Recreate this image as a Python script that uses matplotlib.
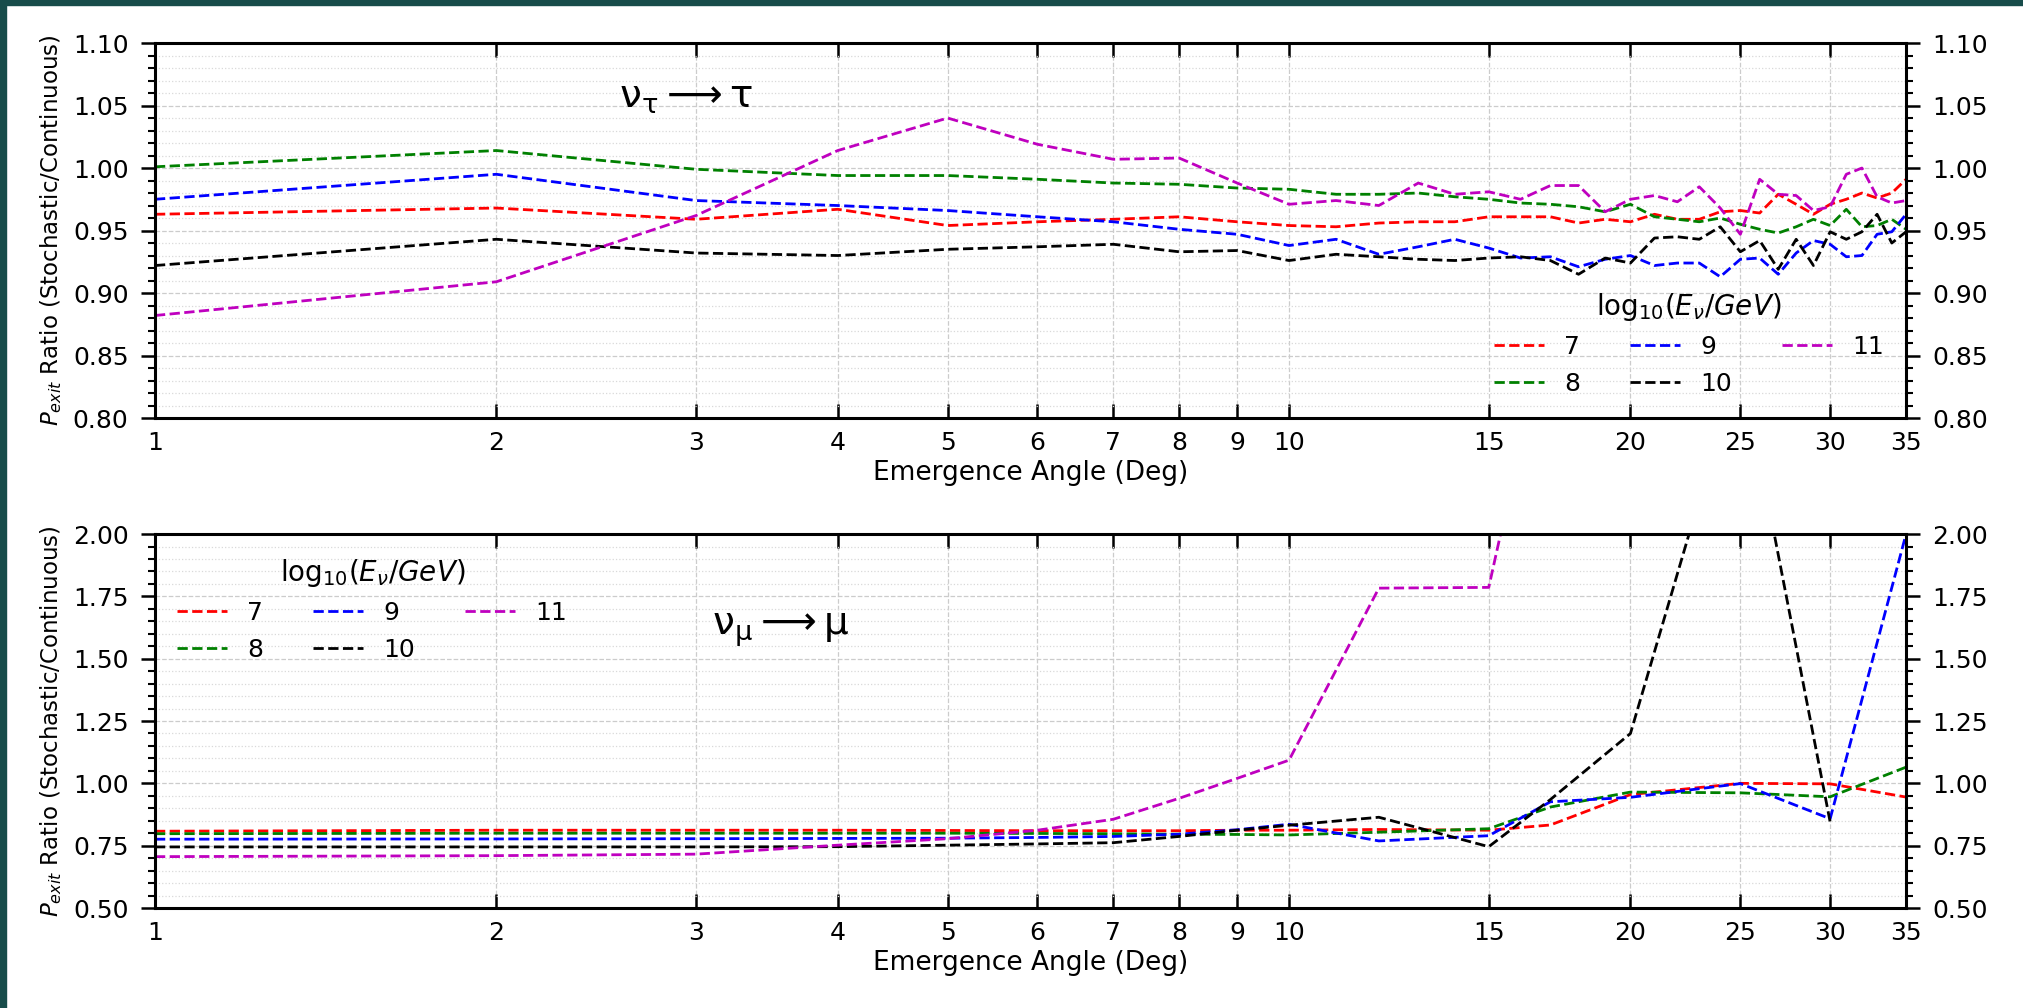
import numpy as np
import matplotlib
matplotlib.use("Agg")
import matplotlib.pyplot as plt
from matplotlib.patches import Rectangle
from matplotlib.ticker import MultipleLocator, NullLocator, FixedLocator, FixedFormatter

# energies (log10 E / GeV) and line colours
energies = ["7", "8", "9", "10", "11"]
colors = ["r", "g", "b", "k", "m"]

# nu_tau -> tau, angles 1..35 deg
angles_tau = list(range(1, 36))
tau_7 = [0.963, 0.968, 0.959, 0.967, 0.954, 0.957, 0.959, 0.961, 0.957, 0.954,
         0.953, 0.956, 0.957, 0.957, 0.961, 0.961, 0.961, 0.956, 0.959, 0.957,
         0.963, 0.959, 0.959, 0.965, 0.966, 0.964, 0.979, 0.971, 0.963, 0.971,
         0.975, 0.980, 0.976, 0.980, 0.991]
tau_8 = [1.001, 1.014, 0.999, 0.994, 0.994, 0.991, 0.988, 0.987, 0.984, 0.983,
         0.979, 0.979, 0.980, 0.977, 0.975, 0.972, 0.971, 0.969, 0.965, 0.971,
         0.961, 0.959, 0.957, 0.960, 0.955, 0.951, 0.948, 0.953, 0.959, 0.954,
         0.967, 0.953, 0.954, 0.959, 0.951]
tau_9 = [0.975, 0.995, 0.974, 0.970, 0.966, 0.961, 0.957, 0.951, 0.947, 0.938,
         0.943, 0.931, 0.937, 0.943, 0.936, 0.928, 0.929, 0.921, 0.927, 0.930,
         0.922, 0.924, 0.924, 0.913, 0.927, 0.928, 0.915, 0.932, 0.942, 0.939,
         0.929, 0.930, 0.947, 0.949, 0.963]
tau_10 = [0.922, 0.943, 0.932, 0.930, 0.935, 0.937, 0.939, 0.933, 0.934, 0.926,
          0.931, 0.929, 0.927, 0.926, 0.928, 0.929, 0.926, 0.915, 0.928, 0.924,
          0.944, 0.945, 0.943, 0.953, 0.933, 0.942, 0.919, 0.943, 0.922, 0.949,
          0.943, 0.949, 0.963, 0.940, 0.949]
tau_11 = [0.882, 0.909, 0.962, 1.014, 1.040, 1.019, 1.007, 1.008, 0.988, 0.971,
          0.974, 0.970, 0.988, 0.979, 0.981, 0.975, 0.986, 0.986, 0.965, 0.975,
          0.978, 0.973, 0.985, 0.968, 0.947, 0.991, 0.979, 0.978, 0.966, 0.969,
          0.995, 1.000, 0.977, 0.972, 0.974]

# nu_mu -> mu
angles_mu = [1, 2, 3, 4, 5, 6, 7, 8, 9, 10, 12, 15, 17, 20, 25, 30, 35]
mu_7 = [0.808, 0.812, 0.812, 0.812, 0.811, 0.810, 0.810, 0.810, 0.812, 0.812,
        0.815, 0.812, 0.833, 0.955, 1.000, 0.998, 0.945]
mu_8 = [0.798, 0.800, 0.800, 0.800, 0.800, 0.799, 0.798, 0.796, 0.795, 0.793,
        0.804, 0.818, 0.905, 0.965, 0.962, 0.946, 1.065]
mu_9 = [0.776, 0.777, 0.778, 0.779, 0.780, 0.783, 0.787, 0.796, 0.814, 0.836,
        0.769, 0.790, 0.926, 0.944, 0.999, 0.858, 2.0]
mu_10 = [0.745, 0.745, 0.745, 0.746, 0.752, 0.757, 0.762, 0.787, 0.812, 0.832,
         0.864, 0.746, 0.935, 1.200, 2.70, 0.845, np.nan]
mu_11 = [0.706, 0.710, 0.716, 0.752, 0.778, 0.812, 0.856, 0.940, 1.020, 1.093,
         1.783, 1.786, 2.9, 4.0, 5.0, 5.0, 5.0]

xticks = [1, 2, 3, 4, 5, 6, 7, 8, 9, 10, 15, 20, 25, 30, 35]

fig = plt.figure(figsize=(20.23, 10.08), dpi=100)
fig.patches.append(Rectangle((0, 0), 6 / 2023, 1, transform=fig.transFigure,
                             color="#174c4a", zorder=-1))
fig.patches.append(Rectangle((0, 1 - 5 / 1008), 1, 5 / 1008, transform=fig.transFigure,
                             color="#174c4a", zorder=-1))

ax1 = fig.add_axes([0.0766, 0.5853, 0.8656, 0.3720])
ax2 = fig.add_axes([0.0766, 0.0992, 0.8656, 0.3710])


def style(ax, ymin, ymax, major, minor):
    ax.set_xscale("log")
    ax.set_xlim(1, 35)
    ax.set_ylim(ymin, ymax)
    ax.xaxis.set_major_locator(FixedLocator(xticks))
    ax.xaxis.set_major_formatter(FixedFormatter([str(t) for t in xticks]))
    ax.xaxis.set_minor_locator(NullLocator())
    ax.yaxis.set_major_locator(MultipleLocator(major))
    ax.yaxis.set_minor_locator(MultipleLocator(minor))
    ax.yaxis.set_major_formatter(matplotlib.ticker.FormatStrFormatter("%.2f"))
    ax.grid(which="major", ls="--", color="0.8", lw=0.9)
    ax.grid(which="minor", axis="y", ls=":", color="0.85", lw=0.9)
    ax.tick_params(axis="x", which="major", direction="in", length=10, width=1.8,
                   top=True, labelsize=18, pad=9)
    ax.tick_params(axis="y", which="major", direction="out", length=10, width=1.8,
                   right=True, labelright=True, labelsize=18, pad=9)
    ax.tick_params(axis="y", which="minor", direction="out", length=5, width=1.5,
                   right=True)
    for s in ax.spines.values():
        s.set_linewidth(2.2)
    ax.set_xlabel("Emergence Angle (Deg)", fontsize=19)
    ax.set_ylabel(r"$P_{exit}$ Ratio (Stochastic/Continuous)", fontsize=16.5, labelpad=6)


tau_series = [tau_7, tau_8, tau_9, tau_10, tau_11]
mu_series = [mu_7, mu_8, mu_9, mu_10, mu_11]

for vals, c, e in zip(tau_series, colors, energies):
    ax1.plot(angles_tau, vals, ls="--", color=c, lw=2.0, label=e)
for vals, c, e in zip(mu_series, colors, energies):
    ax2.plot(angles_mu, vals, ls="--", color=c, lw=2.0, label=e)

style(ax1, 0.80, 1.10, 0.05, 0.01)
style(ax2, 0.50, 2.00, 0.25, 0.05)

title = r"$\mathrm{log}_{10}(E_{\nu}/GeV)$"
ax1.legend(loc="lower right", ncol=3, frameon=False, fontsize=18,
           title=title, title_fontsize=20)
ax2.legend(loc="upper left", ncol=3, frameon=False, fontsize=18,
           title=title, title_fontsize=20)

ax1.text(0.265, 0.856, r"$\mathrm{\nu_{\tau}} \longrightarrow \mathrm{\tau}$",
         transform=ax1.transAxes, fontsize=28, va="center", ha="left")
ax2.text(0.318, 0.743, r"$\mathrm{\nu_{\mu}} \longrightarrow \mathrm{\mu}$",
         transform=ax2.transAxes, fontsize=28, va="center", ha="left")

plt.savefig("out.png", dpi=100)
